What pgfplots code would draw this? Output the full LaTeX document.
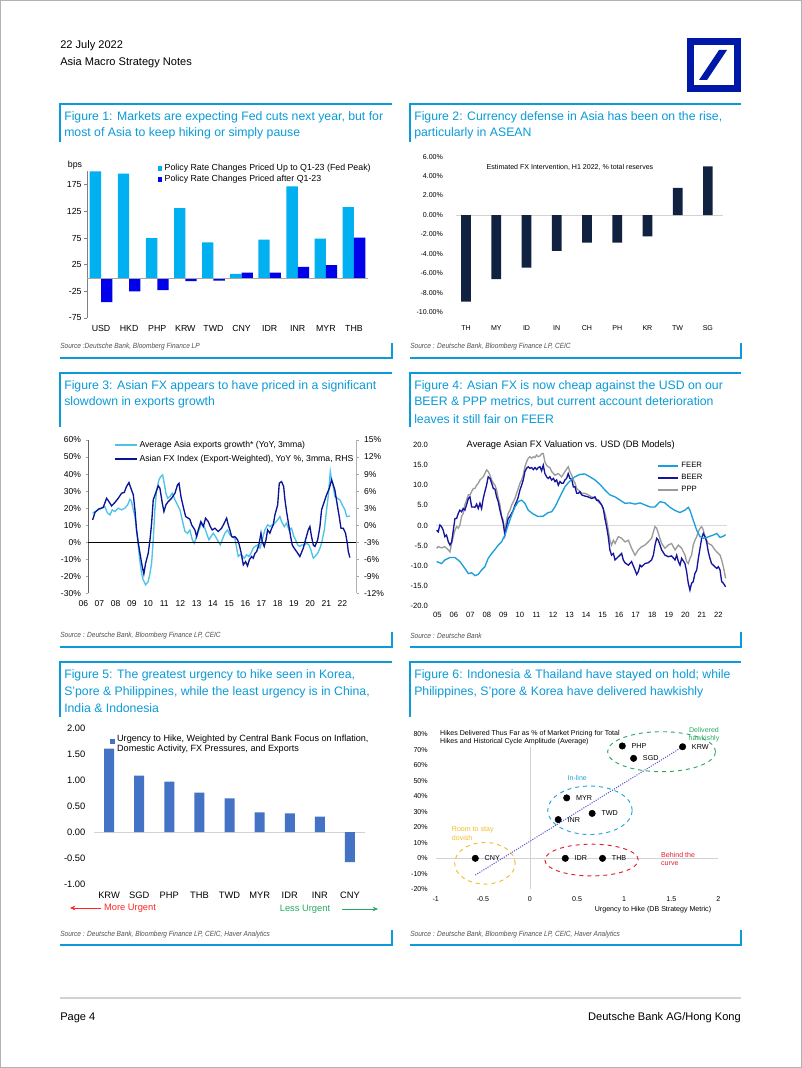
\documentclass[border=0pt]{standalone}
\usepackage{fontspec}
\setmainfont{Liberation Sans}
\newfontfamily\srcfam[FakeStretch=0.88]{Liberation Sans}
\usepackage{pgfplots}
\pgfplotsset{compat=1.18}
\usetikzlibrary{arrows.meta}

\definecolor{dbcap}{RGB}{10,155,216}
\definecolor{dblogo}{RGB}{0,24,168}
\definecolor{fcyan}{RGB}{0,176,240}
\definecolor{fblue}{RGB}{0,0,235}
\definecolor{fnavy}{RGB}{17,34,64}
\definecolor{lexp}{RGB}{77,195,232}
\definecolor{dfx}{RGB}{10,20,150}
\definecolor{feer}{RGB}{25,160,220}
\definecolor{beer}{RGB}{20,20,160}
\definecolor{ppp}{RGB}{155,155,155}
\definecolor{urg}{RGB}{68,114,196}
\definecolor{srcgray}{RGB}{80,80,80}
\definecolor{egreen}{RGB}{40,170,100}
\definecolor{eblue}{RGB}{35,165,215}
\definecolor{eyellow}{RGB}{240,190,40}
\definecolor{ered}{RGB}{225,30,45}
\definecolor{trend}{RGB}{90,90,210}

\newcommand\capfont{\fontsize{9.2}{11}\selectfont}
\newcommand\hdrfont{\fontsize{8.3}{10}\selectfont}
\newcommand\srcf{\srcfam\itshape\fontsize{5.6}{6.5}\selectfont}

\pgfplotsset{
  /pgfplots/ybar legend/.style={/pgfplots/legend image code/.code={\fill[##1,draw=none] (0pt,-1.7pt) rectangle (3.4pt,1.7pt);}},
  pg/.style={scale only axis, anchor=south west, axis line style={draw=none}, tick style={draw=none}, clip=false},
}

\begin{document}
\begin{tikzpicture}
\begin{scope}[x=0.75pt,y=0.75pt]
\useasboundingbox (0,0) rectangle (802,1068);
\fill[white] (0,0) rectangle (802,1068);
\draw[gray!60, line width=0.75pt] (0.5,0.5) rectangle (801.5,1067.5);
% header
\node[anchor=west,inner sep=0,font=\hdrfont] at (60,1022) {22 July 2022};
\node[anchor=west,inner sep=0,font=\hdrfont] at (60,1005) {Asia Macro Strategy Notes};
% logo
\fill[dblogo] (687,976) rectangle (741,1030);
\fill[white] (694,983) rectangle (734,1023);
\fill[dblogo] (699,988) -- (707,988) -- (727,1018) -- (719,1018) -- cycle;
% frames
\foreach \xa/\xb in {60/392, 410/741} {
  \draw[dbcap, line width=1.1pt] (\xa,926) -- (\xa,964) -- (\xb,964);
  \draw[dbcap, line width=1.1pt] (\xa,710) -- (\xb,710) -- (\xb,725);
  \draw[dbcap, line width=1.1pt] (\xa,641) -- (\xa,695) -- (\xb,695);
  \draw[dbcap, line width=1.1pt] (\xa,421) -- (\xb,421) -- (\xb,436);
  \draw[dbcap, line width=1.1pt] (\xa,351) -- (\xa,406) -- (\xb,406);
  \draw[dbcap, line width=1.1pt] (\xa,123) -- (\xb,123) -- (\xb,138);
}
% captions
\begin{scope}[every node/.style={anchor=west,inner sep=0,font=\capfont,text=dbcap}]
\node at (64,951) {Figure 1: Markets are expecting Fed cuts next year, but for};
\node at (64,935) {most of Asia to keep hiking or simply pause};
\node at (414,951) {Figure 2: Currency defense in Asia has been on the rise,};
\node at (414,935) {particularly in ASEAN};
\node at (64,682) {Figure 3: Asian FX appears to have priced in a significant};
\node at (64,666) {slowdown in exports growth};
\node at (414,682) {Figure 4: Asian FX is now cheap against the USD on our};
\node at (414,666) {BEER \& PPP metrics, but current account deterioration};
\node at (414,649) {leaves it still fair on FEER};
\node at (64,393) {Figure 5: The greatest urgency to hike seen in Korea,};
\node at (64,376) {S'pore \& Philippines, while the least urgency is in China,};
\node at (64,360) {India \& Indonesia};
\node at (414,393) {Figure 6: Indonesia \& Thailand have stayed on hold; while};
\node at (414,376) {Philippines, S'pore \& Korea have delivered hawkishly};
\end{scope}
% sources
\begin{scope}[every node/.style={anchor=west,inner sep=0,font=\srcf,text=srcgray}]
\node at (60,721) {Source :Deutsche Bank, Bloomberg Finance LP};
\node at (410,721) {Source : Deutsche Bank, Bloomberg Finance LP, CEIC};
\node at (60,432) {Source : Deutsche Bank, Bloomberg Finance LP, CEIC};
\node at (410,432) {Source : Deutsche Bank};
\node at (60,133) {Source : Deutsche Bank, Bloomberg Finance LP, CEIC, Haver Analytics};
\node at (410,133) {Source : Deutsche Bank, Bloomberg Finance LP, CEIC, Haver Analytics};
\end{scope}
% footer
\draw[gray!35, line width=1.5pt] (60,70) -- (741,70);
\node[anchor=west,inner sep=0,font=\hdrfont] at (60,50) {Page 4};
\node[anchor=east,inner sep=0,font=\hdrfont] at (741,50) {Deutsche Bank AG/Hong Kong};
% fig1 unit label
\node[font=\fontsize{6.6}{7.5}\selectfont] at (75,903) {bps};
% fig5 arrows
\draw[-{Stealth[length=4pt,width=3.5pt]}, red!85!white, line width=0.6pt] (101,160) -- (70,160);
\node[text=red!85!white, font=\fontsize{7}{8}\selectfont] at (130,160) {More Urgent};
\node[text=egreen, font=\fontsize{7}{8}\selectfont] at (305,159) {Less Urgent};
\draw[-{Stealth[length=4pt,width=3.5pt]}, egreen, line width=0.6pt] (342,159) -- (378,159);
\end{scope}

%================ FIGURE 1
\begin{axis}[pg, at={(65.25pt,562.5pt)}, width=210.75pt, height=109.9pt,
 xmin=-0.5, xmax=9.5, ymin=-75, ymax=200,
 ybar=0pt, bar width=8.5pt,
 xtick={0,...,9}, xticklabels={USD,HKD,PHP,KRW,TWD,CNY,IDR,INR,MYR,THB},
 ytick={-75,-25,25,75,125,175}, yticklabels={-75,-25,25,75,125,175},
 ytick pos=left, ytick style={draw=gray,line width=0.5pt}, tick align=outside, major tick length=2pt,
 ticklabel style={font=\fontsize{6.6}{7.5}\selectfont},
 yticklabel style={xshift=1.5pt},
 legend style={at={(0.25,1.07)}, anchor=north west, draw=none, fill=none, inner sep=0pt, font=\fontsize{6.6}{7.5}\selectfont, row sep=-2pt},
 legend cell align=left]
\addplot[fill=fcyan, draw=none] coordinates {(0,200) (1,196) (2,75) (3,131) (4,67) (5,8) (6,72) (7,172) (8,74) (9,133)};
\addlegendentry{Policy Rate Changes Priced Up to Q1-23 (Fed Peak)}
\addplot[fill=fblue, draw=none] coordinates {(0,-45) (1,-25) (2,-22.5) (3,-6) (4,-5) (5,10) (6,10) (7,21) (8,24) (9,76)};
\addlegendentry{Policy Rate Changes Priced after Q1-23}
\draw[gray, line width=0.5pt] (axis cs:-0.5,-75) -- (axis cs:-0.5,200);
\draw[gray!70, line width=0.5pt] (axis cs:-0.5,0) -- (axis cs:9.5,0);
\end{axis}

%================ FIGURE 2
\begin{axis}[pg, at={(338.25pt,566.8pt)}, width=204pt, height=116.7pt,
 xmin=-0.5, xmax=8.5, ymin=-10, ymax=6,
 ybar, bar width=7.3pt,
 xtick={0,...,8}, xticklabels={TH,MY,ID,IN,CH,PH,KR,TW,SG},
 ytick={-10,-8,-6,-4,-2,0,2,4,6}, yticklabels={-10.00\%,-8.00\%,-6.00\%,-4.00\%,-2.00\%,0.00\%,2.00\%,4.00\%,6.00\%},
 ticklabel style={font=\fontsize{5.3}{6}\selectfont},
 yticklabel style={xshift=-2.5pt}, xticklabel style={yshift=-2.5pt}]
\draw[gray!35, line width=0.6pt] (axis cs:-0.35,0) -- (axis cs:8.5,0);
\addplot[fill=fnavy, draw=none] coordinates {(0,-8.9) (1,-6.6) (2,-5.4) (3,-3.7) (4,-2.85) (5,-2.85) (6,-2.2) (7,2.8) (8,5.0)};
\node[font=\fontsize{5.3}{6}\selectfont] at (rel axis cs:0.4375,0.93) {Estimated FX Intervention, H1 2022, \% total reserves};
\end{axis}

%================ FIGURE 3 (left axis)
\begin{axis}[pg, at={(66.2pt,356.0pt)}, width=201.3pt, height=115pt,
 xmin=6.309, xmax=22.877, ymin=-30, ymax=60,
 xtick={6.309,7.309,8.309,9.309,10.309,11.309,12.309,13.309,14.309,15.309,16.309,17.309,18.309,19.309,20.309,21.309,22.309},
 xticklabels={06,07,08,09,10,11,12,13,14,15,16,17,18,19,20,21,22},
 xticklabel style={xshift=-3.75pt},
 ytick={-30,-20,...,60}, yticklabels={-30\%,-20\%,-10\%,0\%,10\%,20\%,30\%,40\%,50\%,60\%},
 tick align=outside, major tick length=2pt,
 ticklabel style={font=\fontsize{6.4}{7.5}\selectfont}]
\addplot[draw=lexp, line width=1pt] coordinates {(6.58,17.0) (6.72,18.0) (6.93,19.0) (7.13,20.0) (7.34,20.9) (7.48,17.4) (7.65,16.0) (7.79,19.0) (7.95,18.0) (8.16,20.0) (8.37,19.0) (8.57,20.0) (8.74,21.9) (8.88,25.2) (8.98,23.9) (9.09,19.0) (9.19,15.1) (9.29,7.2) (9.40,-2.5) (9.50,-11.4) (9.60,-18.2) (9.70,-22.1) (9.85,-25.0) (10.01,-23.1) (10.12,-18.2) (10.22,-12.3) (10.32,1.4) (10.42,19.0) (10.53,30.7) (10.67,36.6) (10.79,38.6) (10.90,39.5) (11.00,34.6) (11.10,28.8) (11.21,25.8) (11.35,26.8) (11.49,28.8) (11.66,24.9) (11.82,21.9) (11.97,19.0) (12.11,13.1) (12.28,6.3) (12.44,5.3) (12.58,7.2) (12.73,1.4) (12.85,-0.6) (13.00,3.7) (13.14,7.2) (13.30,11.2) (13.47,9.2) (13.61,5.3) (13.76,1.4) (13.88,3.3) (14.02,5.3) (14.17,3.3) (14.33,0.4) (14.46,-1.6) (14.58,1.4) (14.74,5.3) (14.91,7.2) (15.05,4.3) (15.20,3.3) (15.36,2.3) (15.47,-3.5) (15.57,-8.4) (15.67,-7.4) (15.77,-7.4) (15.94,-9.4) (16.08,-7.4) (16.23,-8.4) (16.35,-6.5) (16.49,-3.5) (16.60,-2.5) (16.76,-1.6) (16.91,-3.5) (17.05,1.4) (17.21,7.2) (17.38,10.2) (17.52,9.2) (17.67,10.2) (17.83,11.2) (18.00,13.1) (18.14,15.1) (18.24,12.1) (18.41,9.2) (18.55,11.2) (18.70,7.2) (18.86,8.2) (19.00,3.3) (19.11,1.4) (19.23,-1.6) (19.37,-2.5) (19.48,-1.6) (19.64,-1.6) (19.79,-0.6) (19.93,-1.6) (20.05,-4.5) (20.20,-9.4) (20.30,-8.4) (20.47,-6.5) (20.61,-3.5) (20.71,-0.6) (20.88,7.2) (21.02,19.0) (21.12,26.8) (21.19,34.6) (21.25,41.5) (21.33,36.6) (21.43,32.7) (21.53,26.8) (21.68,25.8) (21.84,24.9) (21.99,21.9) (22.15,19.0) (22.26,15.1) (22.36,15.1) (22.46,15.5)};
\draw[gray!80!black, line width=0.5pt] (rel axis cs:0,0) -- (rel axis cs:0,1);
\draw[black, line width=0.6pt] (axis cs:6.309,0) -- (axis cs:22.877,0);
\end{axis}

%================ FIGURE 3 (right axis, ticks on both sides, legend)
\begin{axis}[pg, at={(66.2pt,356.0pt)}, width=201.3pt, height=115pt,
 xmin=6.309, xmax=22.877, ymin=-12, ymax=15,
 xtick=\empty,
 ytick={-12,-9,...,15}, yticklabels={-12\%,-9\%,-6\%,-3\%,0\%,3\%,6\%,9\%,12\%,15\%},
 ytick pos=both, yticklabel pos=right, ytick style={draw=gray!70,line width=0.5pt}, tick align=outside, major tick length=2pt,
 ticklabel style={font=\fontsize{6.4}{7.5}\selectfont}]
\addplot[draw=dfx, line width=1pt] coordinates {(6.58,0.93) (6.72,2.22) (6.93,2.82) (7.23,3.12) (7.44,4.74) (7.58,4.17) (7.75,3.39) (7.95,3.99) (8.16,4.74) (8.37,5.64) (8.53,5.76) (8.67,6.81) (8.82,7.5) (8.94,6.51) (9.09,5.34) (9.19,2.7) (9.29,-0.84) (9.40,-3.18) (9.50,-4.95) (9.64,-7.29) (9.74,-8.58) (9.85,-6.69) (10.01,-4.95) (10.12,-2.58) (10.22,0.36) (10.32,4.47) (10.47,5.64) (10.63,6.93) (10.73,6.51) (10.88,3.87) (10.98,2.4) (11.10,3.57) (11.25,4.17) (11.45,4.74) (11.66,5.64) (11.82,7.11) (11.91,7.38) (12.03,5.04) (12.17,3.27) (12.32,1.53) (12.48,1.23) (12.58,1.05) (12.69,0.06) (12.89,-0.84) (13.00,-2.01) (13.10,-0.84) (13.26,0.63) (13.41,-0.24) (13.55,1.23) (13.72,0.63) (13.84,-0.24) (13.96,-0.84) (14.13,-0.54) (14.33,-1.11) (14.54,-0.54) (14.70,0.36) (14.85,1.23) (14.95,0.06) (15.05,-0.84) (15.16,-2.01) (15.26,-2.13) (15.36,-2.01) (15.53,-2.58) (15.63,-3.48) (15.73,-4.65) (15.88,-6.99) (16.02,-6.42) (16.14,-7.17) (16.25,-6.12) (16.39,-5.52) (16.49,-5.82) (16.60,-4.95) (16.70,-4.65) (16.84,-3.48) (16.97,-1.41) (17.05,-2.88) (17.17,-3.75) (17.28,-2.58) (17.38,-0.84) (17.52,-1.41) (17.63,-0.54) (17.73,0.06) (17.83,1.8) (18.00,3.57) (18.10,7.38) (18.24,7.68) (18.37,6.81) (18.45,4.47) (18.55,2.4) (18.65,0.63) (18.80,-2.01) (18.90,-3.48) (19.02,-4.05) (19.17,-4.65) (19.37,-5.52) (19.58,-4.05) (19.72,-2.58) (19.89,-0.84) (19.99,-0.24) (20.09,-2.01) (20.20,-3.48) (20.30,-3.75) (20.47,-2.58) (20.61,-0.24) (20.71,2.7) (20.88,4.17) (21.02,5.34) (21.19,6.51) (21.33,7.98) (21.43,7.11) (21.53,6.21) (21.68,3.57) (21.80,1.53) (21.91,-0.54) (22.05,-0.54) (22.19,-1.41) (22.30,-3.18) (22.36,-4.65) (22.46,-5.7)};
\draw[gray!60, line width=0.5pt] (rel axis cs:1,0) -- (rel axis cs:1,1);
% legend
\draw[lexp, line width=1pt] (rel axis cs:0.0995,0.967) -- ++(16.5pt,0pt);
\draw[dfx, line width=1pt] (rel axis cs:0.0995,0.876) -- ++(16.5pt,0pt);
\node[anchor=west, inner sep=0, font=\fontsize{6.5}{7.5}\selectfont] at (rel axis cs:0.19,0.967) {Average Asia exports growth* (YoY, 3mma)};
\node[anchor=west, inner sep=0, font=\fontsize{6.5}{7.5}\selectfont] at (rel axis cs:0.19,0.876) {Asian FX Index (Export-Weighted), YoY \%, 3mma, RHS};
\end{axis}

%================ FIGURE 4
\begin{axis}[pg, at={(326.7pt,346.7pt)}, width=218.9pt, height=120.5pt,
 xmin=4.9, xmax=22.55, ymin=-20, ymax=20,
 xtick={5,...,22}, xticklabels={05,06,07,08,09,10,11,12,13,14,15,16,17,18,19,20,21,22},
 ytick={-20,-15,...,20}, yticklabels={-20.0,-15.0,-10.0,-5.0,0.0,5.0,10.0,15.0,20.0},
 ticklabel style={font=\fontsize{5.7}{6.5}\selectfont},
 yticklabel style={xshift=-2.3pt}, xticklabel style={yshift=-1pt},
 legend style={at={(0.759,0.91)}, anchor=north west, draw=none, fill=none, inner sep=0pt, font=\fontsize{5.8}{6.5}\selectfont, row sep=-0.5pt},
 legend cell align=left, reverse legend,
 legend image code/.code={\draw[#1] (0pt,0pt) -- (15pt,0pt);}]
\draw[gray!30, line width=0.5pt] (axis cs:4.9,0) -- (axis cs:22.55,0);
\addplot[draw=ppp, line width=1pt] coordinates {(4.96,-5.7) (5.06,-5.3) (5.26,-5.6) (5.46,-5.3) (5.67,-6.1) (5.77,-6.6) (5.87,-4.5) (5.97,-2.8) (6.07,-1.2) (6.17,-0.3) (6.27,-0.7) (6.37,0.1) (6.47,2.2) (6.57,3.0) (6.67,5.1) (6.77,6.3) (6.88,7.6) (6.98,7.6) (7.08,8.4) (7.18,9.2) (7.28,9.2) (7.38,10.0) (7.48,10.5) (7.58,11.3) (7.68,11.7) (7.78,12.1) (7.88,12.9) (7.98,13.8) (8.08,13.4) (8.19,12.5) (8.29,11.3) (8.39,10.5) (8.49,10.0) (8.59,8.8) (8.69,6.7) (8.79,5.1) (8.89,2.2) (8.99,1.3) (9.09,-1.6) (9.19,1.3) (9.29,3.0) (9.40,3.8) (9.50,5.1) (9.60,5.9) (9.70,6.7) (9.80,8.0) (9.90,9.2) (10.00,10.5) (10.10,11.3) (10.20,12.5) (10.30,14.6) (10.40,15.8) (10.50,16.7) (10.60,17.1) (10.71,16.7) (10.81,17.1) (10.91,16.9) (11.01,17.5) (11.11,17.1) (11.21,17.3) (11.31,17.8) (11.41,17.9) (11.51,15.8) (11.61,15.0) (11.71,14.6) (11.81,14.4) (11.92,13.4) (12.12,12.5) (12.32,12.9) (12.52,12.1) (12.72,13.4) (12.92,14.6) (13.02,13.4) (13.13,12.5) (13.23,11.3) (13.33,10.5) (13.43,9.2) (13.53,8.8) (13.73,8.0) (13.93,8.0) (14.13,7.6) (14.33,7.1) (14.54,6.7) (14.74,5.9) (14.94,5.1) (15.14,3.0) (15.24,1.3) (15.34,-1.2) (15.44,-3.7) (15.54,-4.9) (15.65,-3.7) (15.75,-4.5) (15.95,-2.8) (16.15,-3.2) (16.35,-4.1) (16.56,-3.7) (16.75,-5.7) (16.96,-7.4) (17.16,-6.1) (17.36,-5.3) (17.56,-4.9) (17.76,-4.1) (17.96,-3.2) (18.07,-1.6) (18.17,-0.3) (18.27,-0.7) (18.37,-2.0) (18.57,-4.5) (18.77,-5.7) (18.97,-4.9) (19.17,-4.5) (19.38,-6.1) (19.58,-4.9) (19.78,-5.7) (19.98,-7.4) (20.08,-9.0) (20.18,-9.5) (20.28,-8.2) (20.38,-7.4) (20.48,-4.9) (20.58,-3.7) (20.69,-2.8) (20.79,-1.6) (20.89,-0.7) (20.99,-0.3) (21.09,-1.2) (21.19,-2.8) (21.29,-3.7) (21.39,-4.5) (21.59,-4.9) (21.79,-6.1) (22.00,-7.0) (22.10,-7.4) (22.20,-8.6) (22.30,-10.3) (22.44,-13.2)};
\addlegendentry{PPP}
\addplot[draw=beer, line width=1pt] coordinates {(4.96,-1.2) (5.06,-1.6) (5.16,0.1) (5.26,-0.3) (5.36,-1.2) (5.46,-2.8) (5.56,-2.4) (5.67,-4.1) (5.77,-4.9) (5.87,-4.1) (5.97,-1.2) (6.07,1.7) (6.17,1.7) (6.27,3.0) (6.37,3.8) (6.47,3.4) (6.57,4.2) (6.67,3.8) (6.77,5.1) (6.88,6.7) (6.98,7.1) (7.08,4.6) (7.18,4.6) (7.28,4.5) (7.38,5.3) (7.48,4.2) (7.58,5.5) (7.68,4.2) (7.78,6.7) (7.88,8.4) (7.98,10.0) (8.08,12.1) (8.19,11.7) (8.29,10.5) (8.39,9.2) (8.49,9.0) (8.59,7.1) (8.69,5.9) (8.79,3.8) (8.89,2.2) (8.99,0.5) (9.09,-2.4) (9.19,-0.3) (9.29,1.7) (9.40,2.3) (9.50,3.0) (9.60,3.8) (9.70,5.1) (9.80,5.9) (9.90,7.1) (10.00,8.8) (10.10,10.0) (10.20,11.3) (10.30,13.4) (10.40,14.2) (10.50,14.6) (10.60,14.2) (10.71,14.4) (10.81,13.9) (10.91,14.4) (11.01,13.9) (11.11,14.4) (11.21,14.6) (11.31,13.6) (11.41,15.0) (11.51,12.9) (11.61,12.1) (11.71,11.7) (11.81,12.1) (11.92,11.3) (12.02,11.7) (12.12,10.9) (12.22,11.3) (12.32,10.0) (12.42,10.9) (12.52,10.5) (12.62,10.5) (12.72,11.3) (12.82,11.7) (12.92,12.9) (13.02,11.7) (13.13,11.5) (13.23,9.6) (13.33,9.6) (13.43,8.0) (13.53,8.0) (13.63,8.4) (13.73,7.6) (13.93,7.3) (14.13,7.1) (14.33,6.7) (14.54,7.1) (14.64,6.3) (14.74,6.3) (14.94,5.1) (15.04,4.2) (15.14,1.7) (15.24,-0.3) (15.34,-2.8) (15.44,-6.1) (15.54,-7.4) (15.65,-7.0) (15.75,-8.6) (15.95,-7.8) (16.15,-7.0) (16.25,-8.6) (16.35,-9.3) (16.56,-9.9) (16.75,-9.0) (16.96,-11.1) (17.06,-12.2) (17.16,-11.5) (17.26,-9.9) (17.36,-10.3) (17.56,-9.5) (17.76,-9.3) (17.96,-8.6) (18.07,-7.4) (18.17,-4.9) (18.27,-3.2) (18.37,-3.7) (18.57,-6.1) (18.77,-7.4) (18.97,-7.8) (19.17,-7.6) (19.38,-8.6) (19.48,-7.4) (19.58,-9.0) (19.68,-9.9) (19.78,-8.2) (19.98,-9.5) (20.08,-11.5) (20.18,-14.4) (20.28,-16.1) (20.38,-14.4) (20.48,-14.0) (20.58,-12.0) (20.69,-11.1) (20.79,-8.2) (20.89,-5.7) (20.99,-3.2) (21.09,-2.0) (21.19,-2.8) (21.29,-4.1) (21.39,-6.6) (21.49,-8.2) (21.59,-9.5) (21.69,-9.9) (21.79,-10.3) (21.90,-10.7) (22.00,-10.3) (22.10,-11.1) (22.20,-14.0) (22.30,-14.4) (22.44,-15.3)};
\addlegendentry{BEER}
\addplot[draw=feer, line width=1pt] coordinates {(4.96,-9.0) (5.26,-9.5) (5.46,-8.6) (5.77,-8.0) (6.07,-8.0) (6.37,-9.0) (6.67,-10.7) (6.88,-12.0) (7.08,-11.8) (7.28,-12.5) (7.48,-12.2) (7.68,-11.1) (7.88,-10.3) (8.08,-8.2) (8.29,-7.0) (8.49,-6.0) (8.69,-4.9) (8.89,-4.1) (9.09,-2.4) (9.29,0.1) (9.50,2.6) (9.70,4.6) (9.90,5.9) (10.10,6.3) (10.30,5.5) (10.50,3.8) (10.81,2.8) (11.11,2.2) (11.41,2.3) (11.71,3.2) (11.92,3.4) (12.12,4.6) (12.32,6.3) (12.52,8.0) (12.72,9.6) (12.92,10.6) (13.13,11.5) (13.33,12.1) (13.63,12.7) (13.93,12.8) (14.23,12.1) (14.54,11.3) (14.84,10.2) (15.14,8.8) (15.44,7.6) (15.75,7.1) (16.05,6.3) (16.35,5.5) (16.65,5.6) (16.96,5.3) (17.26,5.6) (17.56,5.1) (17.86,4.6) (18.17,4.6) (18.47,5.9) (18.77,5.6) (19.07,4.5) (19.38,3.7) (19.68,3.2) (19.98,3.8) (20.18,4.5) (20.28,3.8) (20.48,1.3) (20.69,-1.2) (20.89,-2.8) (21.09,-3.2) (21.29,-3.0) (21.49,-2.7) (21.69,-2.4) (21.90,-2.0) (22.10,-3.0) (22.30,-2.7) (22.44,-2.3)};
\addlegendentry{FEER}
\node[font=\fontsize{7}{8}\selectfont] at (rel axis cs:0.463,1.0) {Average Asian FX Valuation vs. USD (DB Models)};
\end{axis}

%================ FIGURE 5
\begin{axis}[pg, at={(70.5pt,138pt)}, width=203.3pt, height=116.8pt,
 xmin=-0.5, xmax=8.5, ymin=-1, ymax=2,
 ybar, bar width=7.5pt,
 xtick={0,...,8}, xticklabels={KRW,SGD,PHP,THB,TWD,MYR,IDR,INR,CNY},
 ytick={-1,-0.5,0,0.5,1,1.5,2}, yticklabels={-1.00,-0.50,0.00,0.50,1.00,1.50,2.00},
 ticklabel style={font=\fontsize{7}{8}\selectfont},
 yticklabel style={xshift=-3pt}, xticklabel style={yshift=1.5pt},
 /pgfplots/ybar legend/.style={/pgfplots/legend image code/.code={\fill[##1,draw=none] (0pt,4.35pt) rectangle (3.4pt,7.75pt);}},
 legend style={at={(0.058,0.982)}, anchor=north west, draw=none, fill=none, inner sep=0pt, font=\fontsize{6.8}{7.6}\selectfont},
 legend cell align=left]
\draw[gray!35, line width=0.6pt] (axis cs:-0.5,0) -- (axis cs:8.5,0);
\addplot[fill=urg, draw=none] coordinates {(0,1.61) (1,1.09) (2,0.97) (3,0.76) (4,0.65) (5,0.38) (6,0.36) (7,0.30) (8,-0.58)};
\addlegendentry{\begin{tabular}{@{}l@{}}Urgency to Hike, Weighted by Central Bank Focus on Inflation,\\Domestic Activity, FX Pressures, and Exports\end{tabular}}
\end{axis}

%================ FIGURE 6
\begin{axis}[pg, at={(326.8pt,134.0pt)}, width=212pt, height=116.25pt,
 xmin=-1, xmax=2, ymin=-20, ymax=80,
 xtick={-1,-0.5,0,0.5,1,1.5,2}, xticklabels={-1,-0.5,0,0.5,1,1.5,2},
 ytick={-20,-10,...,80}, yticklabels={-20\%,-10\%,0\%,10\%,20\%,30\%,40\%,50\%,60\%,70\%,80\%},
 ticklabel style={font=\fontsize{5.3}{6}\selectfont},
 yticklabel style={xshift=-2.5pt}, xticklabel style={yshift=-1.8pt}]
\draw[gray!35, line width=0.6pt] (axis cs:-1,0) -- (axis cs:2,0);
\draw[gray!35, line width=0.6pt] (axis cs:0,-20) -- (axis cs:0,72);
\addplot[trend, line width=0.8pt, dash pattern=on 0.8pt off 1pt] coordinates {(-0.58,-10.8) (1.62,72)};
\draw[egreen, dashed, line width=0.7pt] (axis cs:1.397,68.8) ellipse [x radius=40.5pt, y radius=15pt];
\draw[eblue, dashed, line width=0.7pt] (axis cs:0.637,31) ellipse [x radius=31.7pt, y radius=18.2pt];
\draw[eyellow, dashed, line width=0.7pt] (axis cs:-0.478,-3.2) ellipse [x radius=22.7pt, y radius=15.6pt];
\draw[ered, dashed, line width=0.7pt] (axis cs:0.654,-1.1) ellipse [x radius=35pt, y radius=11.9pt];
\addplot[only marks, mark=*, mark size=2.4pt, black, nodes near coords, point meta=explicit symbolic,
  every node near coord/.append style={anchor=west, xshift=3.5pt, font=\fontsize{5.4}{6}\selectfont}]
  table[meta=lab] {
x y lab
-0.58 0 CNY
0.375 0 IDR
0.77 0 THB
0.30 25 INR
0.39 39 MYR
0.66 29 TWD
0.98 72.5 PHP
1.10 64.5 SGD
1.62 72 KRW
};
\begin{scope}[every node/.style={font=\fontsize{5.3}{6}\selectfont, inner sep=0}]
\node[anchor=west] at (axis cs:-0.955,80.6) {Hikes Delivered Thus Far as \% of Market Pricing for Total};
\node[anchor=west] at (axis cs:-0.955,75.2) {Hikes and Historical Cycle Amplitude (Average)};
\node[text=egreen] at (axis cs:1.847,82.8) {Delivered};
\node[text=egreen] at (axis cs:1.847,77.4) {hawkishly};
\node[text=eblue] at (axis cs:0.502,52.0) {In-line};
\node[text=eyellow, anchor=west] at (axis cs:-0.831,18.3) {Room to stay};
\node[text=eyellow, anchor=west] at (axis cs:-0.831,13.3) {dovish};
\node[text=ered, anchor=west] at (axis cs:1.39,2.1) {Behind the};
\node[text=ered, anchor=west] at (axis cs:1.39,-3.2) {curve};
\node at (axis cs:1.306,-33.4) {Urgency to Hike (DB Strategy Metric)};
\end{scope}
\end{axis}
\end{tikzpicture}
\end{document}
